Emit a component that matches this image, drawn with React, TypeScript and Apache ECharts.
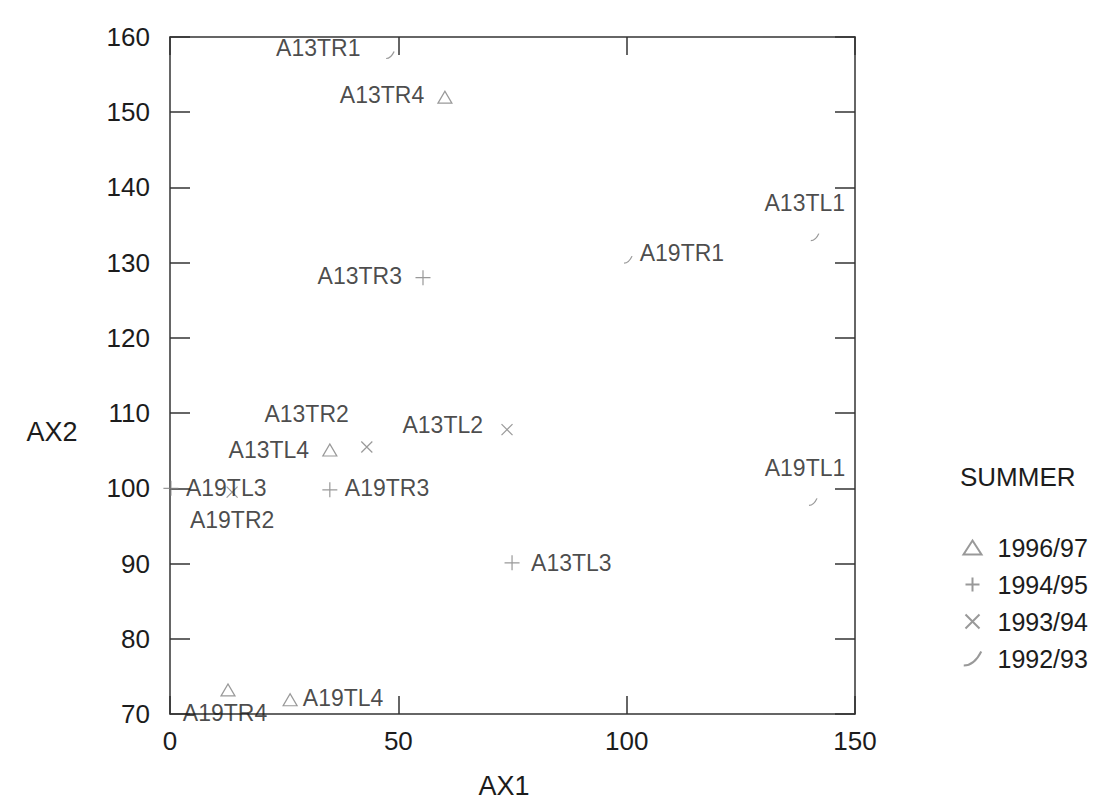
import React, { useEffect, useRef } from "react";
import * as echarts from "echarts";

// Seasons (legend order)
const seasons = ["1996/97", "1994/95", "1993/94", "1992/93"];

// Sites, their ordination scores and their season
const siteNames = [
  "A13TR1", "A13TR4", "A13TL1", "A19TR1", "A13TR3",
  "A13TR2", "A13TL4", "A13TL2", "A19TR3", "A19TL3",
  "A19TR2", "A19TR4", "A19TL4", "A13TL3", "A19TL1",
];
const ax1Values = [48.2, 60.2, 141.2, 100.3, 55.4, 43.1, 35.0, 73.8, 35.0, 0.2, 13.6, 12.7, 26.3, 74.9, 140.8];
const ax2Values = [157.6, 152.0, 133.4, 130.4, 128.0, 105.5, 105.1, 107.8, 99.8, 100.0, 99.5, 73.2, 71.9, 90.1, 98.2];
const siteSeason = [
  "1992/93", "1996/97", "1992/93", "1992/93", "1994/95",
  "1993/94", "1996/97", "1993/94", "1994/95", "1994/95",
  "1993/94", "1996/97", "1996/97", "1994/95", "1992/93",
];

// Axis ranges
const xRange = { min: 0, max: 150, interval: 50 };
const yRange = { min: 70, max: 160, interval: 10 };

// Label placement (style only)
const labelPlacement: Record<string, { position: string; offset: number[] }> = {
  A13TR1: { position: "left", offset: [-18, -7] },
  A13TR4: { position: "left", offset: [-6, -2] },
  A13TL1: { position: "top", offset: [-10, -12] },
  A19TR1: { position: "right", offset: [0, -7] },
  A13TR3: { position: "left", offset: [-6, -2] },
  A13TR2: { position: "left", offset: [-5, -33] },
  A13TL4: { position: "left", offset: [-6, 0] },
  A13TL2: { position: "left", offset: [-11, -5] },
  A19TR3: { position: "right", offset: [0, -2] },
  A19TL3: { position: "right", offset: [0, 0] },
  A19TR2: { position: "bottom", offset: [0, 3] },
  A19TR4: { position: "bottom", offset: [-3, -2] },
  A19TL4: { position: "right", offset: [-2, -2] },
  A13TL3: { position: "right", offset: [4, 0] },
  A19TL1: { position: "top", offset: [-8, -12] },
};

const seasonSymbol: Record<string, { symbol: string; size: number | number[] }> = {
  "1996/97": { symbol: "triangle", size: [14, 12] },
  "1994/95": { symbol: "path://M5 0 L5 10 M0 5 L10 5", size: 15 },
  "1993/94": { symbol: "path://M0 0 L10 10 M10 0 L0 10", size: 11 },
  "1992/93": { symbol: "path://M0 10 Q6 10 10 2", size: [8, 7] },
};

const FONT = "Arial, 'Liberation Sans', Helvetica, sans-serif";
const TEXT = "#1c1c1c";
const MARK = "#808080";
const AXIS = "#333";

export default function App() {
  const ref = useRef<HTMLDivElement>(null);

  useEffect(() => {
    if (!ref.current) return;
    const chart = echarts.init(ref.current, undefined, { renderer: "svg" });

    const series = seasons.map((season) => ({
      name: season,
      type: "scatter",
      xAxisIndex: 0,
      yAxisIndex: 0,
      symbol: seasonSymbol[season].symbol,
      symbolSize: seasonSymbol[season].size,
      itemStyle: { color: "none", borderColor: MARK, borderWidth: 1.2 },
      emphasis: { disabled: true },
      label: {
        show: true,
        formatter: "{b}",
        color: TEXT,
        fontFamily: FONT,
        fontSize: 23,
      },
      data: siteNames
        .map((name, i) => ({ name, i }))
        .filter((d) => siteSeason[d.i] === season)
        .map((d) => ({
          name: d.name,
          value: [ax1Values[d.i], ax2Values[d.i]],
          label: labelPlacement[d.name],
        })),
    }));

    const tickStyle = (len: number) => ({
      show: true,
      inside: true,
      length: len,
      lineStyle: { color: AXIS, width: 1.5 },
    });
    const lineStyle = { show: true, onZero: false, lineStyle: { color: AXIS, width: 1.5 } };

    chart.setOption({
      animation: false,
      backgroundColor: "#fff",
      grid: { left: 170, right: 251, top: 37, bottom: 89, containLabel: false },
      xAxis: [
        {
          type: "value",
          position: "bottom",
          ...xRange,
          axisLine: lineStyle,
          axisTick: tickStyle(18),
          splitLine: { show: false },
          axisLabel: { color: TEXT, fontFamily: FONT, fontSize: 26, margin: 14 },
        },
        {
          type: "value",
          position: "top",
          ...xRange,
          axisLine: lineStyle,
          axisTick: tickStyle(18),
          splitLine: { show: false },
          axisLabel: { show: false },
        },
      ],
      yAxis: [
        {
          type: "value",
          position: "left",
          ...yRange,
          axisLine: lineStyle,
          axisTick: tickStyle(20),
          splitLine: { show: false },
          axisLabel: { color: TEXT, fontFamily: FONT, fontSize: 26, margin: 20 },
        },
        {
          type: "value",
          position: "right",
          ...yRange,
          axisLine: lineStyle,
          axisTick: tickStyle(20),
          splitLine: { show: false },
          axisLabel: { show: false },
        },
      ],
      legend: {
        orient: "vertical",
        left: 956,
        top: 530,
        itemWidth: 18,
        itemHeight: 14,
        itemGap: 12,
        data: seasons,
        textStyle: {
          color: TEXT,
          fontFamily: FONT,
          fontSize: 25,
          padding: [0, 0, 0, 11],
        },
      },
      graphic: [
        {
          type: "text",
          left: 960,
          top: 464,
          style: { text: "SUMMER", fill: TEXT, font: `26px ${FONT}` },
        },
        {
          type: "text",
          x: 52,
          y: 432,
          style: { text: "AX2", fill: TEXT, font: `27px ${FONT}`, align: "center", verticalAlign: "middle" },
        },
        {
          type: "text",
          x: 504,
          y: 786,
          style: { text: "AX1", fill: TEXT, font: `27px ${FONT}`, align: "center", verticalAlign: "middle" },
        },
      ],
      series,
    });

    return () => chart.dispose();
  }, []);

  return (
    <div
      ref={ref}
      style={{ position: "absolute", left: 0, top: 0, width: 1106, height: 803 }}
    />
  );
}
